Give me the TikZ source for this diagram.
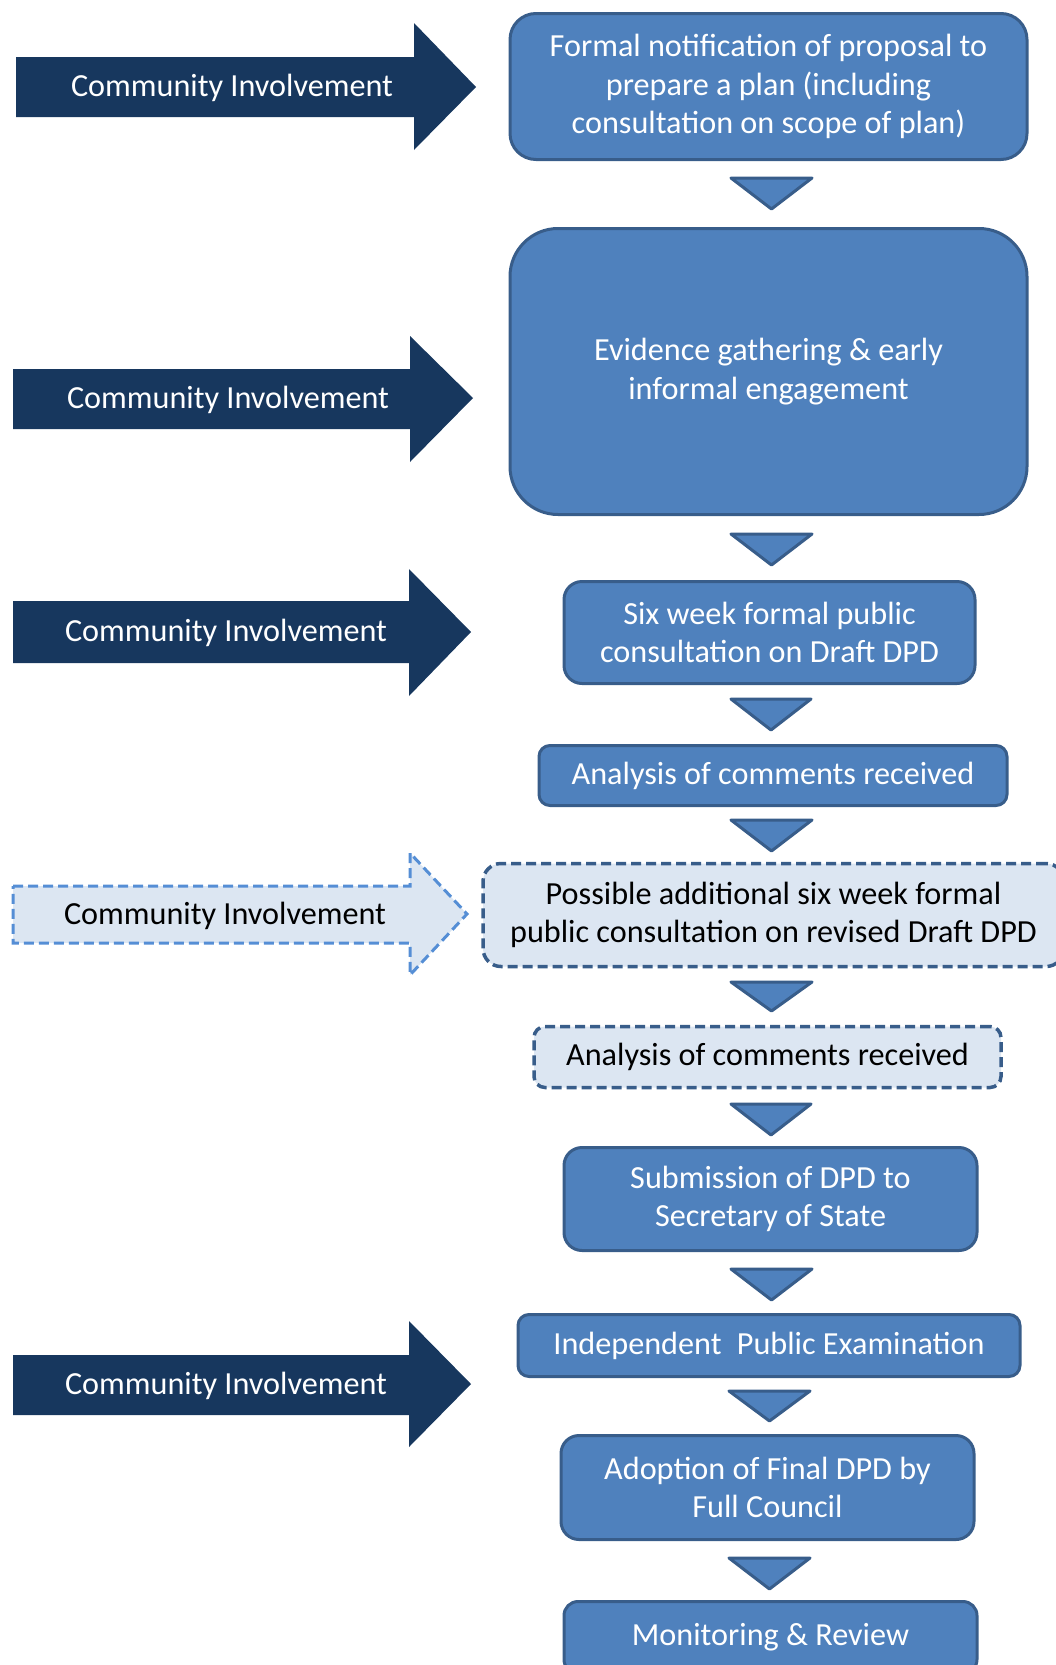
\documentclass[tikz,border=0pt]{standalone}
\usepackage{fontspec}
\setmainfont{Carlito}
\definecolor{navy}{HTML}{17375E}
\definecolor{boxfill}{HTML}{4F81BD}
\definecolor{boxline}{HTML}{385D8A}
\definecolor{lightfill}{HTML}{DCE6F2}
\definecolor{dashblue}{HTML}{558ED5}
\tikzset{
  txt/.style={font=\fontsize{32.2}{38.3}\selectfont, align=center, inner sep=0pt},
  stagebox/.style={txt, draw=boxline, fill=boxfill, line width=3pt, rounded corners=#1, text=white},
  stagebox/.default=18pt,
  optbox/.style={txt, draw=boxline, fill=lightfill, line width=3.5pt, dash pattern=on 10pt off 5pt, rounded corners=#1, text=black},
  optbox/.default=14pt,
  ciarrow/.style={fill=navy, draw=none},
  optarrow/.style={fill=lightfill, draw=dashblue, line width=3pt, dash pattern=on 10pt off 5pt},
  tri/.style={fill=boxfill, draw=boxline, line width=3pt, line join=round},
}
\begin{document}
\begin{tikzpicture}[x=1pt,y=-1pt]
\useasboundingbox (0,0) rectangle (1056,1665);
\clip (0,0) rectangle (1056,1665);

% stage boxes
\node[stagebox=26pt, minimum width=517pt, minimum height=146pt] (b1) at (768.5,86.5)
  {Formal notification of proposal to\\prepare a plan (including\\consultation on scope of plan)};
\node[stagebox=48pt, minimum width=517pt, minimum height=286pt] (b2) at (768.5,371.5)
  {Evidence gathering \& early\\informal engagement};
\node[stagebox=18pt, minimum width=411pt, minimum height=102pt] (b3) at (769.5,632.5)
  {Six week formal public\\consultation on Draft DPD};
\node[stagebox=11pt, minimum width=468pt, minimum height=60pt] (b4) at (773,775.5)
  {Analysis of comments received};
\node[optbox=18pt, minimum width=581pt, minimum height=103pt] (b5) at (773.5,915)
  {Possible additional six week formal\\public consultation on revised Draft DPD};
\node[optbox=11pt, minimum width=467pt, minimum height=61pt] (b6) at (767.5,1057)
  {Analysis of comments received};
\node[stagebox=18pt, minimum width=413pt, minimum height=103pt] (b7) at (770.5,1199)
  {Submission of DPD to\\Secretary of State};
\node[stagebox=11pt, minimum width=502pt, minimum height=62pt] (b8) at (769,1345.5)
  {Independent\hspace{0.25em} Public Examination};
\node[stagebox=18pt, minimum width=413pt, minimum height=104pt] (b9) at (767.5,1487.5)
  {Adoption of Final DPD by\\Full Council};
\node[stagebox=14pt, minimum width=413pt, minimum height=72pt] (b10) at (770.5,1637.5)
  {Monitoring \& Review};

% down triangles
\path[tri] (731,178) -- (812,178) -- (771.5,209) -- cycle;
\path[tri] (731,534) -- (812,534) -- (771.5,565) -- cycle;
\path[tri] (731,699) -- (811,699) -- (771,730) -- cycle;
\path[tri] (731,820) -- (812,820) -- (771.5,851) -- cycle;
\path[tri] (731,982) -- (812,982) -- (771.5,1011) -- cycle;
\path[tri] (731,1104) -- (811,1104) -- (771,1135) -- cycle;
\path[tri] (731,1269) -- (812,1269) -- (771.5,1300) -- cycle;
\path[tri] (729,1391) -- (810,1391) -- (769.5,1421) -- cycle;
\path[tri] (729,1558) -- (810,1558) -- (769.5,1589) -- cycle;

% community involvement arrows
\path[ciarrow] (16,57) -- (414,57) -- (414,23) -- (476,87) -- (414,150) -- (414,117) -- (16,117) -- cycle;
\node[txt, text=white] (c1) at (232,88) {Community Involvement};

\path[ciarrow] (13,369) -- (410,369) -- (410,336) -- (473,398) -- (410,462) -- (410,429) -- (13,429) -- cycle;
\node[txt, text=white] (c2) at (228,400) {Community Involvement};

\path[ciarrow] (13,601) -- (409,601) -- (409,569) -- (471,632) -- (409,696) -- (409,663) -- (13,663) -- cycle;
\node[txt, text=white] (c3) at (226,633) {Community Involvement};

\path[optarrow] (13,886) -- (410,886) -- (410,853) -- (467,914) -- (410,975) -- (410,943) -- (13,943) -- cycle;
\node[txt, text=black] (c4) at (225,916) {Community Involvement};

\path[ciarrow] (13,1355) -- (409,1355) -- (409,1321) -- (471,1384) -- (409,1447) -- (409,1415) -- (13,1415) -- cycle;
\node[txt, text=white] (c5) at (226,1386) {Community Involvement};
\end{tikzpicture}
\end{document}
